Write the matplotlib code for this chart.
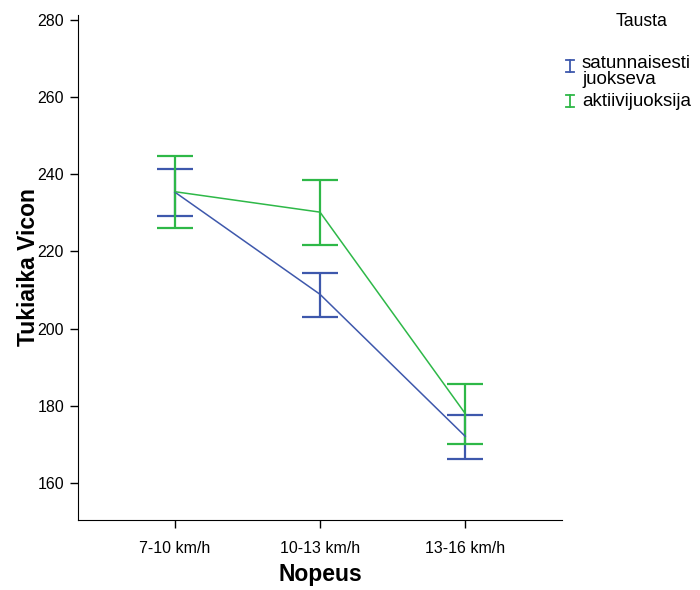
import numpy as np
import matplotlib
matplotlib.use('Agg')
import matplotlib.pyplot as plt
from matplotlib.lines import Line2D

plt.rcParams['font.family'] = ['Liberation Sans', 'DejaVu Sans']

nopeus = ['7-10 km/h', '10-13 km/h', '13-16 km/h']
ryhmat = [['satunnaisesti', 'juokseva'], ['aktiivijuoksija']]

# keskiarvot ja virhepalkkien ala- ja ylärajat
sat_ka = [235.4, 208.9, 172.1]
sat_ala = [229.2, 203.1, 166.3]
sat_yla = [241.4, 214.5, 177.7]

akt_ka = [235.5, 230.2, 178.0]
akt_ala = [226.2, 221.8, 170.0]
akt_yla = [244.8, 238.6, 185.7]

sininen = '#3E58AC'
vihrea = '#2EB848'

fig = plt.figure(figsize=(7, 5.9), dpi=100)
ax = fig.add_axes([78/700, 1 - 520/590, (562 - 78)/700, (520 - 15)/590])

x = np.arange(len(nopeus))
for ka, ala, yla, c in [(sat_ka, sat_ala, sat_yla, sininen),
                        (akt_ka, akt_ala, akt_yla, vihrea)]:
    ka = np.array(ka)
    err = [ka - np.array(ala), np.array(yla) - ka]
    ax.errorbar(x, ka, yerr=err, color=c, lw=1.1, elinewidth=1.6,
                capsize=13.3, capthick=1.6)

ax.set_xlim(-2/3, 2 + 2/3)
ax.set_ylim(150.4, 281.3)
ax.set_yticks(np.arange(160, 281, 20))
ax.set_xticks(x)
ax.set_xticklabels(nopeus)
ax.tick_params(labelsize=11.5, length=6, width=1, direction='out', pad=4)
ax.tick_params(axis='x', pad=9)
for s in ['top', 'right']:
    ax.spines[s].set_visible(False)
ax.set_xlabel('Nopeus', fontsize=16.5, fontweight='bold', labelpad=5)
ax.set_ylabel('Tukiaika Vicon', fontsize=16.5, fontweight='bold', labelpad=-2)

# selite
fig.text(642/700, 1 - 22/590, 'Tausta', fontsize=12.7, ha='center', va='center')
for yy, rivit, c in [(66, ryhmat[0], sininen), (101, ryhmat[1], vihrea)]:
    y0 = 1 - (yy - 6)/590
    y1 = 1 - (yy + 6)/590
    xc = 570/700
    d = 4/700
    fig.add_artist(Line2D([xc, xc], [y0, y1], color=c, lw=1.3))
    fig.add_artist(Line2D([xc - d, xc + d], [y0, y0], color=c, lw=1.3))
    fig.add_artist(Line2D([xc - d, xc + d], [y1, y1], color=c, lw=1.3))
    ty = yy - 3 if len(rivit) > 1 else yy
    for i, rivi in enumerate(rivit):
        fig.text(582/700, 1 - (ty + 17*i)/590, rivi, fontsize=13.5,
                 ha='left', va='center')

fig.savefig('out.png', dpi=100)
